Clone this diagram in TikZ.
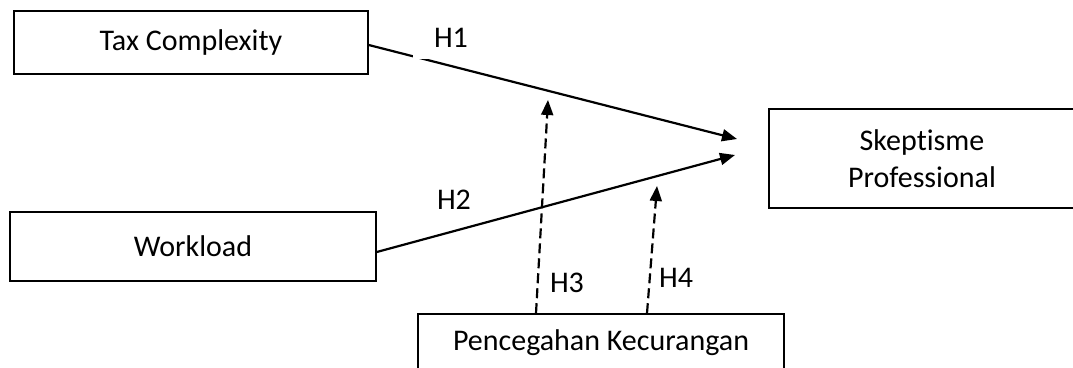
\documentclass[tikz,border=0pt]{standalone}
\usepackage{fontspec}
\setmainfont{Carlito}[Ligatures=NoCommon]
\usetikzlibrary{arrows.meta}
\begin{document}
\begin{tikzpicture}[x=1pt,y=-1pt,
  every node/.style={font=\fontsize{30}{36.6}\selectfont},
  box/.style={draw=black, line width=1.6pt, rectangle, inner sep=0pt, align=center},
  link/.style={line width=2.2pt, -{Triangle[length=15pt,width=12pt]}},
  modlink/.style={line width=2.2pt, dash pattern=on 10pt off 5pt, -{Triangle[length=15pt,width=12pt]}},
  lbl/.style={inner sep=0pt}]
\useasboundingbox (0,0) rectangle (1073,367);
\clip (0,0) rectangle (1073,367);
\node[box, minimum width=354pt, minimum height=63pt] (tax) at (191,42.5) {Tax Complexity};
\node[box, minimum width=366pt, minimum height=69pt] (wl) at (193,246.5) {Workload};
\node[box, minimum width=306pt, minimum height=99pt] (sk) at (922,158.5) {Skeptisme\\Professional};
\node[box, minimum width=366pt, minimum height=58pt] (pc) at (601,343) {Pencegahan Kecurangan};
\coordinate (t1) at (737,139);
\coordinate (t2) at (735,155);
\coordinate (t3) at (548,100);
\coordinate (t4) at (657,186);
\draw[link] ([yshift=-2.5pt]tax.east) -- (t1);
\draw[link] ([yshift=-5.5pt]wl.east) -- (t2);
\draw[modlink] ([xshift=-65pt]pc.north) -- (t3);
\draw[modlink] ([xshift=46pt]pc.north) -- (t4);
\node[lbl, fill=white, minimum width=76pt, minimum height=42pt] (h1) at (451,38) {H1};
\node[lbl] (h2) at (454,200) {H2};
\node[lbl] (h3) at (567,283) {H3};
\node[lbl] (h4) at (676,278) {H4};
\end{tikzpicture}
\end{document}
